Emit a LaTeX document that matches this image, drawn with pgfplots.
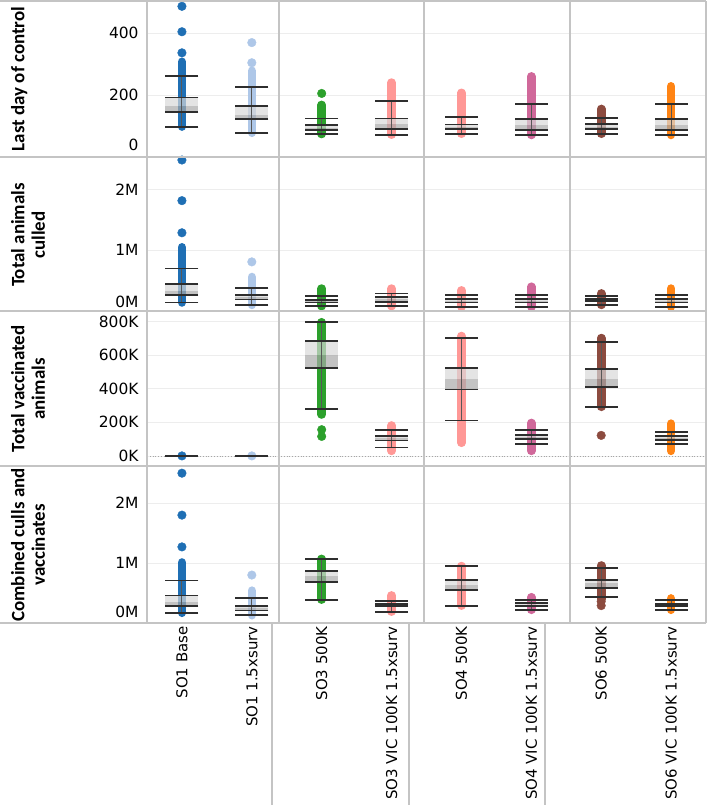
\documentclass[border=0pt]{standalone}
\usepackage{pgfplots}
\pgfplotsset{compat=1.18}
\usepackage{fontspec}
\setmainfont{DejaVu Sans}
\newfontfamily\titlefont{Carlito}

\definecolor{cA}{HTML}{1F6FB4}
\definecolor{cB}{HTML}{AEC7E8}
\definecolor{cC}{HTML}{2CA02C}
\definecolor{cD}{HTML}{FF9896}
\definecolor{cE}{HTML}{D0689A}
\definecolor{cF}{HTML}{8C4B3F}
\definecolor{cG}{HTML}{FF8414}
\definecolor{panel}{HTML}{C4C4C4}
\definecolor{gridc}{HTML}{EDEDED}
\definecolor{whisk}{HTML}{2E2E2E}
\definecolor{boxlight}{HTML}{D8D8D8}
\definecolor{boxdark}{HTML}{AAAAAA}

\newcommand{\tickfont}{\fontsize{15.5}{18}\selectfont}
\newcommand{\catfont}{\fontsize{15}{18}\selectfont}

% strip of dots: x, colour, lowest, highest
\newcommand{\stripc}[4]{\addplot[draw=#2, line width=8.6bp, line cap=round] coordinates {(#1,#3) (#1,#4)};}
% single dots
\newcommand{\outl}[2]{\addplot[only marks, mark=*, mark size=4.3bp, color=#1] coordinates {#2};}
% box: x, lower whisker, q1, median, q3, upper whisker
\newcommand{\boxw}[6]{%
  \addplot[draw=boxdark, line width=33bp, opacity=0.7] coordinates {(#1,#3) (#1,#4)};
  \addplot[draw=boxlight, line width=33bp, opacity=0.7] coordinates {(#1,#4) (#1,#5)};
  \addplot[draw=whisk!80, line width=1bp] coordinates {(#1,#2) (#1,#6)};
  \addplot[only marks, mark=-, mark size=16.5bp, color=whisk, mark options={line width=1.8bp}]
    coordinates {(#1,#2) (#1,#3) (#1,#5) (#1,#6)};
}

\pgfplotsset{
  tabl/.style={
    width=559bp, scale only axis, anchor=south west,
    xmin=-0.5, xmax=7.5, clip=false,
    axis line style={draw=none}, major tick length=0,
    xtick=\empty,
    ymajorgrids, grid style={draw=gridc, line width=0.8bp},
    yticklabel style={font=\tickfont, xshift=-5bp},
  }
}

\begin{document}
\begin{tikzpicture}[x=1bp, y=1bp]
\useasboundingbox (0,0) rectangle (709,812);

% Last day of control
\begin{axis}[tabl, at={(147bp,655bp)}, height=155bp,
  ymin=0, ymax=500, ytick={200,400}, yticklabels={200,400},
  extra y ticks={0}, extra y tick labels={0},
  extra y tick style={yticklabel style={yshift=12bp}}]
\stripc{0}{cA}{98}{307} \outl{cA}{(0,336)(0,404)(0,486)} \boxw{0}{98}{146}{165}{192}{261}
\stripc{1}{cB}{78}{278} \outl{cB}{(1,304)(1,369)} \boxw{1}{78}{122}{135}{165}{225}
\stripc{2}{cC}{74}{168} \outl{cC}{(2,205)} \boxw{2}{74}{87}{93}{103}{124}
\stripc{3}{cD}{72}{240} \boxw{3}{72}{89}{106}{124}{181}
\stripc{4}{cD}{75}{207} \boxw{4}{75}{91}{98}{105}{130}
\stripc{5}{cE}{71}{260} \boxw{5}{71}{87}{104}{122}{170}
\stripc{6}{cF}{75}{155} \boxw{6}{75}{89}{97}{106}{127}
\stripc{7}{cG}{71}{228} \boxw{7}{71}{87}{104}{122}{170}
\end{axis}

% Total animals culled (millions)
\begin{axis}[tabl, at={(147bp,501bp)}, height=154bp,
  ymin=0, ymax=2.54, ytick={1,2}, yticklabels={1M,2M},
  extra y ticks={0}, extra y tick labels={0M},
  extra y tick style={yticklabel style={yshift=9bp}}]
\stripc{0}{cA}{0.14}{1.05} \outl{cA}{(0,1.29)(0,1.82)(0,2.49)} \boxw{0}{0.14}{0.26}{0.33}{0.44}{0.70}
\stripc{1}{cB}{0.10}{0.56} \outl{cB}{(1,0.81)} \boxw{1}{0.10}{0.19}{0.23}{0.27}{0.38}
\stripc{2}{cC}{0.08}{0.37} \boxw{2}{0.08}{0.14}{0.16}{0.18}{0.25}
\stripc{3}{cD}{0.08}{0.37} \boxw{3}{0.08}{0.15}{0.19}{0.23}{0.29}
\stripc{4}{cD}{0.07}{0.34} \boxw{4}{0.07}{0.14}{0.17}{0.20}{0.26}
\stripc{5}{cE}{0.07}{0.40} \boxw{5}{0.07}{0.14}{0.17}{0.20}{0.26}
\stripc{6}{cF}{0.10}{0.29} \boxw{6}{0.10}{0.16}{0.18}{0.20}{0.25}
\stripc{7}{cG}{0.07}{0.37} \boxw{7}{0.07}{0.14}{0.17}{0.20}{0.26}
\end{axis}

% Total vaccinated animals (thousands)
\begin{axis}[tabl, at={(147bp,346bp)}, height=155bp,
  ymin=-60, ymax=862, ytick={0,200,400,600,800},
  yticklabels={0K,200K,400K,600K,800K}]
\addplot[draw=gray!70, line width=0.8bp, dotted] coordinates {(-0.5,0) (7.5,0)};
\outl{cA}{(0,0)} \boxw{0}{0}{0}{0}{0}{0}
\outl{cB}{(1,0)} \boxw{1}{0}{0}{0}{0}{0}
\stripc{2}{cC}{246}{795} \outl{cC}{(2,156)(2,116)} \boxw{2}{280}{525}{599}{685}{795}
\stripc{3}{cD}{30}{181} \boxw{3}{50}{92}{105}{120}{156}
\stripc{4}{cD}{78}{713} \boxw{4}{210}{395}{455}{521}{701}
\stripc{5}{cE}{30}{196} \boxw{5}{70}{100}{113}{126}{152}
\stripc{6}{cF}{292}{701} \outl{cF}{(6,122)} \boxw{6}{292}{409}{459}{519}{679}
\stripc{7}{cG}{30}{192} \boxw{7}{70}{96}{108}{120}{142}
\end{axis}

% Combined culls and vaccinates (millions)
\begin{axis}[tabl, at={(147bp,189bp)}, height=157bp,
  ymin=0, ymax=2.62, ytick={1,2}, yticklabels={1M,2M},
  extra y ticks={0}, extra y tick labels={0M},
  extra y tick style={yticklabel style={yshift=11bp}},
  xtick={0,1,2,3,4,5,6,7},
  xticklabels={SO1 Base, SO1 1.5xsurv, SO3 500K, SO3 VIC 100K 1.5xsurv,
    SO4 500K, SO4 VIC 100K 1.5xsurv, SO6 500K, SO6 VIC 100K 1.5xsurv},
  xticklabel style={font=\catfont, rotate=90, anchor=east}]
\stripc{0}{cA}{0.17}{1.01} \outl{cA}{(0,1.27)(0,1.80)(0,2.50)} \boxw{0}{0.17}{0.28}{0.35}{0.46}{0.71}
\stripc{1}{cB}{0.13}{0.54} \outl{cB}{(1,0.80)} \boxw{1}{0.13}{0.21}{0.25}{0.29}{0.42}
\stripc{2}{cC}{0.39}{1.07} \boxw{2}{0.39}{0.68}{0.78}{0.87}{1.07}
\stripc{3}{cD}{0.19}{0.46} \boxw{3}{0.19}{0.28}{0.30}{0.32}{0.37}
\stripc{4}{cD}{0.29}{0.95} \boxw{4}{0.29}{0.55}{0.64}{0.72}{0.95}
\stripc{5}{cE}{0.22}{0.43} \boxw{5}{0.22}{0.28}{0.30}{0.33}{0.39}
\stripc{6}{cF}{0.40}{0.96} \outl{cF}{(6,0.29)(6,0.36)} \boxw{6}{0.43}{0.58}{0.66}{0.72}{0.92}
\stripc{7}{cG}{0.22}{0.41} \boxw{7}{0.22}{0.28}{0.30}{0.32}{0.38}
\end{axis}

% pane borders
\begin{scope}[draw=panel, line width=1.4bp]
\foreach \yy in {811,655,501,346,189} \draw (0,\yy) -- (706,\yy);
\foreach \xx in {147,279,424,570,706} \draw (\xx,189) -- (\xx,811);
\foreach \xx in {272,409,545} \draw (\xx,189) -- (\xx,7);
\end{scope}

% row titles
\begin{scope}[every node/.style={rotate=90, anchor=north, align=center, inner sep=0pt,
    font=\titlefont\bfseries\fontsize{19}{20.5}\selectfont}]
\node at (11,733) {Last day of control};
\node at (11,577) {Total animals\\culled};
\node at (11,423) {Total vaccinated\\animals};
\node at (11,267) {Combined culls and\\vaccinates};
\end{scope}
\end{tikzpicture}
\end{document}
